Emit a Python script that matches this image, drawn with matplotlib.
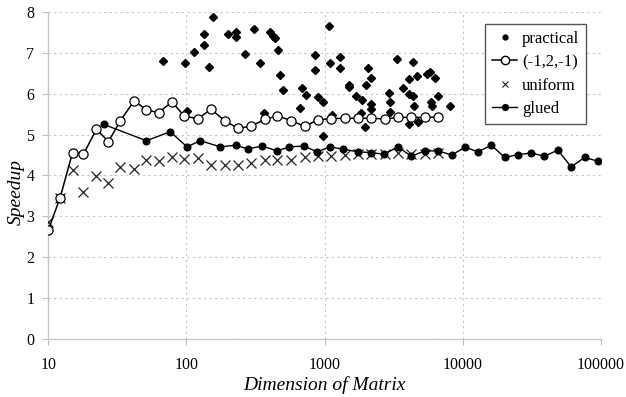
import matplotlib
matplotlib.use('Agg')
import matplotlib.pyplot as plt
from matplotlib.lines import Line2D
from matplotlib.ticker import FixedLocator, FixedFormatter, NullLocator

plt.rcParams['font.family'] = ['Liberation Serif', 'DejaVu Serif']

# matrix sizes shared by the (-1,2,-1) and uniform runs
sizes = [10, 12.2, 15, 18, 22.3, 27.3, 33.3, 42, 51.3, 63, 78.7, 96.7, 121, 151,
         189, 237, 295, 369, 456, 575, 716, 893, 1115, 1400, 1750, 2180, 2730,
         3400, 4240, 5300, 6670]
tridiag = [2.66, 3.46, 4.56, 4.52, 5.13, 4.83, 5.34, 5.83, 5.60, 5.54, 5.80, 5.45,
           5.39, 5.62, 5.34, 5.15, 5.21, 5.37, 5.46, 5.34, 5.20, 5.36, 5.39, 5.40,
           5.40, 5.40, 5.38, 5.42, 5.42, 5.42, 5.43]
uniform = [2.87, 3.46, 4.13, 3.59, 3.99, 3.81, 4.20, 4.17, 4.38, 4.35, 4.45, 4.40,
           4.43, 4.25, 4.25, 4.25, 4.30, 4.39, 4.38, 4.38, 4.46, 4.47, 4.47, 4.50,
           4.52, 4.52, 4.52, 4.54, 4.52, 4.52, 4.54]

glued_n = [25.2, 51.3, 76.5, 101, 126, 176, 227, 278, 354, 452, 557, 706, 882,
           1100, 1370, 1750, 2150, 2700, 3400, 4240, 5300, 6660, 8300, 10400,
           12900, 16100, 20100, 25000, 31300, 39000, 48800, 60900, 76100, 95000,
           119000]
glued = [5.25, 4.85, 5.07, 4.70, 4.85, 4.70, 4.74, 4.65, 4.72, 4.60, 4.70, 4.72,
         4.58, 4.70, 4.64, 4.58, 4.56, 4.52, 4.70, 4.47, 4.60, 4.60, 4.50, 4.69,
         4.58, 4.74, 4.44, 4.51, 4.55, 4.47, 4.62, 4.21, 4.44, 4.35, 4.50]

practical_n = [67.3, 97, 101, 113, 134, 134, 145, 155, 200, 229, 229, 267, 310,
               341, 366, 400, 426, 436, 463, 475, 503, 660, 686, 735, 848, 848,
               900, 971, 971, 1080, 1089, 1130, 1290, 1290, 1490, 1500, 1700,
               1860, 1830, 1950, 2010, 2060, 2180, 2180, 2180, 2910, 2980, 2980,
               3320, 3670, 4070, 4070, 4100, 4360, 4360, 4430, 4700, 4730, 5500,
               5800, 5920, 5960, 6270, 6570, 8100]
practical = [6.80, 6.74, 5.58, 7.01, 7.46, 7.19, 6.66, 7.88, 7.45, 7.50, 7.38,
             6.98, 7.58, 6.74, 5.53, 7.50, 7.42, 7.37, 7.07, 6.45, 6.09, 5.66,
             6.14, 5.97, 6.94, 6.58, 5.92, 5.80, 4.96, 7.66, 6.74, 5.48, 6.90,
             6.62, 6.21, 6.17, 5.94, 5.84, 5.52, 5.18, 6.21, 6.64, 6.39, 5.75,
             5.62, 6.02, 5.80, 5.56, 6.85, 6.15, 6.35, 5.99, 5.27, 6.77, 5.95,
             5.70, 6.43, 5.31, 6.48, 6.54, 5.80, 5.70, 6.39, 5.94, 5.70]

xticks = [10, 100, 1000, 10000, 100000]
xtick_labels = ['10', '100', '1000', '10000', '100000']

fig = plt.figure(figsize=(6.26, 3.97), dpi=100)
ax = fig.add_axes([0.077, 0.146, 0.883, 0.824])

ax.plot(practical_n, practical, linestyle='none', marker='D', markersize=3.6,
        color='black', zorder=3)
ax.plot(sizes, tridiag, color='black', linewidth=1.1, marker='o', markersize=6.6,
        markerfacecolor='white', markeredgecolor='black', markeredgewidth=0.9,
        zorder=4)
ax.plot(sizes, uniform, linestyle='none', marker='x', markersize=6.5,
        color='#222222', markeredgewidth=0.9, zorder=3)
ax.plot(glued_n, glued, color='black', linewidth=1.0, marker='o',
        markersize=4.8, zorder=5)

ax.set_xscale('log')
ax.set_xlim(10, 100000)
ax.set_ylim(0, 8)
ax.xaxis.set_major_locator(FixedLocator(xticks))
ax.xaxis.set_major_formatter(FixedFormatter(xtick_labels))
ax.xaxis.set_minor_locator(NullLocator())
ax.set_yticks(range(0, 9))

# dotted grid, light solid axes on left and bottom only
ax.grid(True, linestyle=(0, (2, 3)), color='#c4c4c4', linewidth=0.8)
ax.set_axisbelow(True)
for side in ['top', 'right']:
    ax.spines[side].set_visible(False)
for side in ['left', 'bottom']:
    ax.spines[side].set_color('#c8c8c8')
    ax.spines[side].set_linewidth(1.0)
ax.tick_params(axis='both', which='major', length=4, width=0.8,
               color='#bdbdbd', labelsize=11.5)
ax.tick_params(axis='x', pad=9)
ax.tick_params(axis='y', pad=6)

ax.set_xlabel('Dimension of Matrix', fontsize=14, style='italic', labelpad=2)
ax.set_ylabel('Speedup', fontsize=14, style='italic')
ax.yaxis.set_label_coords(-0.043, 0.45)

handles = [
    Line2D([], [], linestyle='none', marker='o', markersize=3.5, color='black'),
    Line2D([], [], color='black', linewidth=1.1, marker='o', markersize=6,
           markerfacecolor='white', markeredgecolor='black'),
    Line2D([], [], linestyle='none', marker='x', markersize=5, color='#222222',
           markeredgewidth=0.8),
    Line2D([], [], color='black', linewidth=1.0, marker='o', markersize=4.2),
]
leg = ax.legend(handles, ['practical', '(-1,2,-1)', 'uniform', 'glued'],
                loc='upper right', bbox_to_anchor=(0.973, 0.963), fontsize=12,
                frameon=True, fancybox=False, framealpha=1, edgecolor='#555555',
                handlelength=1.5, handletextpad=0.3, labelspacing=0.45,
                borderpad=0.4, borderaxespad=0)
leg.get_frame().set_linewidth(1.0)

plt.savefig('out.png', dpi=100)
